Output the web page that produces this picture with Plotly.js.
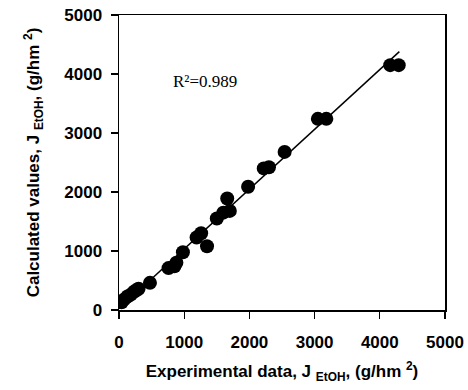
<!DOCTYPE html>
<html>
<head>
<meta charset="utf-8">
<script src="https://cdn.plot.ly/plotly-3.0.1.min.js"></script>
<style>html,body{margin:0;padding:0;background:#fff;}#chart{width:468px;height:390px;}</style>
</head>
<body>
<div id="chart"></div>
<script>
// Experimental vs calculated ethanol flux (g/hm^2)
const expData = [40, 80, 130, 180, 230, 270, 300, 475, 760, 850, 880, 980, 1190, 1260, 1350, 1500, 1600, 1700, 1660, 1980, 2220, 2300, 2540, 3050, 3180, 4160, 4290];
const calcData = [130, 180, 230, 260, 310, 340, 360, 460, 710, 740, 800, 980, 1230, 1300, 1080, 1550, 1650, 1680, 1890, 2090, 2400, 2420, 2680, 3240, 3240, 4150, 4150];
const fitX = [0, 4300];
const fitY = [20, 4380];
const r2Label = "R\u00b2=0.989";
const tickVals = [0, 1000, 2000, 3000, 4000, 5000];

const data = [
  {
    x: fitX, y: fitY, type: 'scatter', mode: 'lines',
    line: {color: '#000', width: 1.5}, hoverinfo: 'skip', showlegend: false
  },
  {
    x: expData, y: calcData, type: 'scatter', mode: 'markers',
    marker: {color: '#000', size: 14}, showlegend: false
  }
];

const axisCommon = {
  range: [0, 5000],
  tickvals: tickVals,
  ticks: 'outside',
  ticklen: 7,
  tickwidth: 1.2,
  tickcolor: '#000',
  showline: true,
  linecolor: '#000',
  linewidth: 1.5,
  mirror: true,
  showgrid: false,
  zeroline: false,
  tickfont: {family: 'Liberation Sans, Arial, sans-serif', size: 17, color: '#000', weight: 'bold'}
};

const layout = {
  width: 468, height: 390,
  margin: {l: 119, r: 23, t: 15, b: 80},
  paper_bgcolor: '#fff', plot_bgcolor: '#fff',
  font: {family: 'Liberation Sans, Arial, sans-serif', color: '#000'},
  xaxis: Object.assign({}, axisCommon, {
    ticklabelstandoff: 9,
    title: {
      text: '<b>Experimental data, J <sub>EtOH</sub>, (g/hm <sup>2</sup>)</b>',
      font: {family: 'Liberation Sans, Arial, sans-serif', size: 17, color: '#000'},
      standoff: 14
    }
  }),
  yaxis: Object.assign({}, axisCommon, {
    ticklabelstandoff: 5,
    title: {
      text: '<b>Calculated values, J <sub>EtOH</sub>, (g/hm <sup>2</sup>)</b>',
      font: {family: 'Liberation Sans, Arial, sans-serif', size: 17, color: '#000'},
      standoff: 20
    }
  }),
  annotations: [{
    x: 1320, y: 3880, xref: 'x', yref: 'y',
    text: r2Label, showarrow: false,
    font: {family: 'Liberation Serif, Times New Roman, serif', size: 17, color: '#000'}
  }]
};

Plotly.newPlot('chart', data, layout, {displayModeBar: false, staticPlot: true});
</script>
</body>
</html>
